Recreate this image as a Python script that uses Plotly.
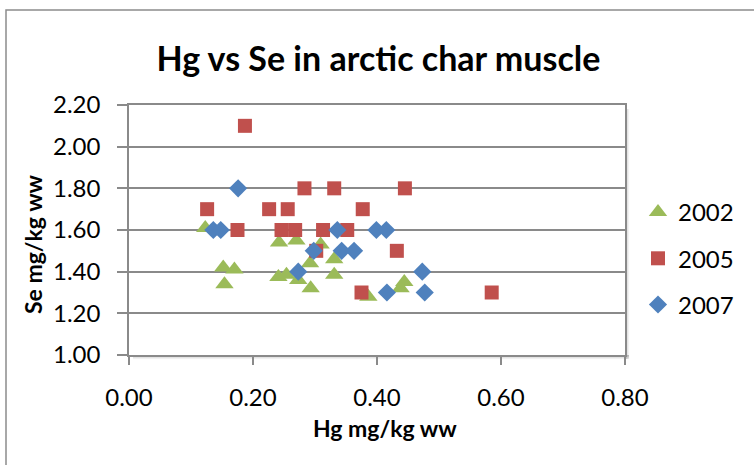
import plotly.graph_objects as go

# ---- data ----
x2002 = [0.123, 0.152, 0.170, 0.154, 0.242, 0.241, 0.254, 0.270, 0.273, 0.309, 0.292, 0.293, 0.331, 0.331, 0.386, 0.444, 0.438]
y2002 = [1.61, 1.42, 1.41, 1.34, 1.54, 1.375, 1.385, 1.55, 1.36, 1.53, 1.44, 1.32, 1.46, 1.385, 1.28, 1.35, 1.32]

x2005 = [0.126, 0.175, 0.187, 0.226, 0.246, 0.256, 0.268, 0.283, 0.302, 0.313, 0.331, 0.352, 0.377, 0.375, 0.432, 0.445, 0.585]
y2005 = [1.70, 1.60, 2.10, 1.70, 1.60, 1.70, 1.60, 1.80, 1.50, 1.60, 1.80, 1.60, 1.70, 1.30, 1.50, 1.80, 1.30]

x2007 = [0.136, 0.148, 0.176, 0.273, 0.298, 0.336, 0.343, 0.363, 0.399, 0.415, 0.416, 0.473, 0.477]
y2007 = [1.60, 1.60, 1.80, 1.40, 1.50, 1.60, 1.50, 1.50, 1.60, 1.60, 1.30, 1.40, 1.30]

series_names = ["2002", "2005", "2007"]
x_ticks = [0.0, 0.2, 0.4, 0.6, 0.8]
y_ticks = [1.0, 1.2, 1.4, 1.6, 1.8, 2.0, 2.2]

title_text = "Hg vs Se in arctic char muscle"
x_title = "Hg mg/kg ww"
y_title = "Se mg/kg ww"

# ---- styling ----
W, H = 754, 465
L, R, T, B = 129, 625, 105, 355
FONT = "Lato"
GRID = "#8a8a8a"

def px_x(p):
    return (p - L) / (R - L)

def px_y(p):
    return (B - p) / (B - T)

fig = go.Figure()
fig.add_trace(go.Scatter(x=x2002, y=y2002, mode="markers", name=series_names[0],
                         legendgroup="a",
                         marker=dict(symbol="triangle-up", size=16, color="#9BBB59",
                                     line=dict(width=0))))
fig.add_trace(go.Scatter(x=x2005, y=y2005, mode="markers", name=series_names[1],
                         legendgroup="b",
                         marker=dict(symbol="square", size=14, color="#C0504D",
                                     line=dict(width=0))))
fig.add_trace(go.Scatter(x=x2007, y=y2007, mode="markers", name=series_names[2],
                         legendgroup="c",
                         marker=dict(symbol="diamond", size=14, color="#4F81BD",
                                     line=dict(width=0))))

shapes = []
# outer chart border (extends beyond the picture on right/bottom)
shapes.append(dict(type="rect", xref="paper", yref="paper",
                   x0=px_x(6), x1=px_x(770), y0=px_y(480), y1=px_y(10),
                   line=dict(color="#8c8c8c", width=1.5), fillcolor="rgba(0,0,0,0)",
                   layer="below"))
# soft shadow of the plot area (right and bottom strips)
for i, op in enumerate([0.35, 0.22, 0.12, 0.06]):
    shapes.append(dict(type="rect", xref="paper", yref="paper",
                       x0=px_x(R + i), x1=px_x(R + i + 1.2),
                       y0=px_y(B + 4), y1=px_y(T + 4),
                       line=dict(width=0), fillcolor=f"rgba(90,90,90,{op})", layer="below"))
    shapes.append(dict(type="rect", xref="paper", yref="paper",
                       x0=px_x(L + 4), x1=px_x(R + 4),
                       y0=px_y(B + i + 1.2), y1=px_y(B + i),
                       line=dict(width=0), fillcolor=f"rgba(90,90,90,{op})", layer="below"))

annotations = [
    dict(text=x_title, xref="paper", yref="paper", x=px_x(385), y=px_y(428),
         xanchor="center", yanchor="middle", showarrow=False,
         font=dict(family=FONT, size=23, color="black", weight="bold")),
    dict(text=y_title, xref="paper", yref="paper", x=px_x(33), y=px_y(244),
         xanchor="center", yanchor="middle", showarrow=False, textangle=-90,
         font=dict(family=FONT, size=23, color="black", weight="bold")),
]

fig.update_layout(
    width=W, height=H,
    margin=dict(l=L, r=W - R, t=T, b=H - B),
    paper_bgcolor="white", plot_bgcolor="white",
    font=dict(family=FONT, size=24, color="black"),
    title=dict(text=title_text, x=px_x(378.5), xanchor="center", xref="paper",
               y=1 - 59 / H, yanchor="middle",
               font=dict(family=FONT, size=34, color="black", weight="bold")),
    showlegend=True,
    legend=dict(x=px_x(638), y=px_y(190), xanchor="left", yanchor="top",
                traceorder="grouped", tracegroupgap=12,
                font=dict(family=FONT, size=24, color="black"),
                bgcolor="rgba(0,0,0,0)", itemwidth=30),
    shapes=shapes,
    annotations=annotations,
)

fig.update_xaxes(range=[0, 0.8], tickvals=x_ticks, tickformat=".2f",
                 showgrid=False, zeroline=False,
                 showline=True, linecolor=GRID, linewidth=1.5, mirror=True,
                 ticks="outside", ticklen=8, tickcolor=GRID, tickwidth=1.5,
                 ticklabelstandoff=12,
                 tickfont=dict(family=FONT, size=24, color="black"))
fig.update_yaxes(range=[1.0, 2.2], tickvals=y_ticks, tickformat=".2f",
                 showgrid=True, gridcolor=GRID, gridwidth=1.5, zeroline=False,
                 showline=True, linecolor=GRID, linewidth=1.5, mirror=True,
                 ticks="outside", ticklen=10, tickcolor=GRID, tickwidth=1.5,
                 ticklabelstandoff=12,
                 tickfont=dict(family=FONT, size=24, color="black"))

fig.write_html("out.html")
